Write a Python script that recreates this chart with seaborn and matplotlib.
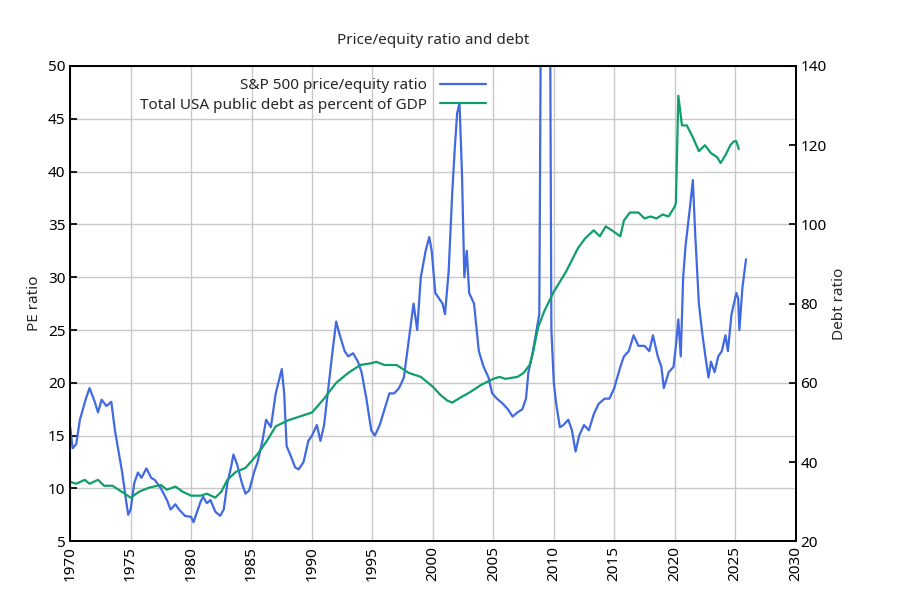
import matplotlib
matplotlib.use("Agg")
import matplotlib.pyplot as plt
import seaborn as sns
import pandas as pd

# S&P 500 P/E ratio
pe_years = [1970.0, 1970.2, 1970.5, 1970.8, 1971.3, 1971.6, 1972.0, 1972.3, 1972.6, 1973.0, 1973.4, 1973.7,
            1974.0, 1974.3, 1974.6, 1974.8, 1975.0, 1975.3, 1975.6, 1975.9, 1976.3, 1976.7, 1977.0, 1977.5,
            1978.0, 1978.3, 1978.7, 1979.0, 1979.5, 1980.0, 1980.2, 1980.5, 1980.8, 1981.0, 1981.3, 1981.6,
            1982.0, 1982.4, 1982.7, 1983.0, 1983.3, 1983.5, 1983.8, 1984.2, 1984.5, 1984.8, 1985.2, 1985.5,
            1985.9, 1986.2, 1986.6, 1987.0, 1987.5, 1987.7, 1987.9, 1988.2, 1988.6, 1988.9, 1989.3, 1989.7,
            1990.0, 1990.4, 1990.7, 1991.0, 1991.3, 1991.7, 1992.0, 1992.3, 1992.7, 1993.0, 1993.4, 1993.8,
            1994.1, 1994.5, 1994.9, 1995.2, 1995.6, 1996.0, 1996.4, 1996.8, 1997.2, 1997.6, 1998.0, 1998.4,
            1998.7, 1999.0, 1999.4, 1999.7, 1999.9, 2000.2, 2000.5, 2000.8, 2001.0, 2001.3, 2001.6, 2001.8,
            2002.0, 2002.2, 2002.4, 2002.6, 2002.8, 2003.0, 2003.4, 2003.8, 2004.2, 2004.6, 2004.9, 2005.3,
            2005.8, 2006.2, 2006.6, 2007.0, 2007.4, 2007.7, 2007.9, 2008.2, 2008.5, 2008.8, 2009.0, 2009.5,
            2009.8, 2010.0, 2010.2, 2010.5, 2010.8, 2011.2, 2011.5, 2011.8, 2012.1, 2012.5, 2012.9, 2013.3,
            2013.7, 2014.2, 2014.6, 2015.0, 2015.5, 2015.8, 2016.2, 2016.6, 2017.0, 2017.5, 2017.9, 2018.2,
            2018.6, 2018.9, 2019.1, 2019.5, 2019.9, 2020.1, 2020.3, 2020.5, 2020.7, 2020.9, 2021.3, 2021.5,
            2021.7, 2022.0, 2022.3, 2022.6, 2022.8, 2023.0, 2023.3, 2023.6, 2023.9, 2024.2, 2024.4, 2024.7,
            2024.9, 2025.1, 2025.25, 2025.35, 2025.6, 2025.9]
pe_values = [15.8, 13.8, 14.2, 16.5, 18.5, 19.5, 18.3, 17.2, 18.4, 17.8, 18.2, 15.5,
             13.5, 11.5, 9.0, 7.5, 8.0, 10.5, 11.5, 11.0, 11.9, 11.0, 10.8, 10.0,
             8.9, 8.0, 8.5, 8.0, 7.4, 7.3, 6.8, 7.8, 8.8, 9.2, 8.6, 8.9,
             7.8, 7.4, 8.0, 10.5, 12.0, 13.2, 12.3, 10.5, 9.5, 9.8, 11.5, 12.5,
             14.5, 16.5, 15.8, 19.0, 21.3, 19.0, 14.0, 13.2, 12.0, 11.8, 12.5, 14.5,
             15.0, 16.0, 14.5, 16.0, 19.0, 23.0, 25.8, 24.5, 23.0, 22.5, 22.8, 22.0,
             21.0, 18.5, 15.5, 15.0, 16.0, 17.5, 19.0, 19.0, 19.5, 20.5, 24.0, 27.5,
             25.0, 30.0, 32.5, 33.8, 32.5, 28.5, 28.0, 27.5, 26.5, 30.5, 38.0, 42.0,
             45.5, 46.5, 40.0, 30.0, 32.5, 28.5, 27.5, 23.0, 21.5, 20.5, 19.0, 18.5,
             18.0, 17.5, 16.8, 17.2, 17.5, 18.5, 21.0, 22.5, 24.5, 26.5, 70.0, 110.0,
             25.0, 20.0, 18.0, 15.8, 16.0, 16.5, 15.5, 13.5, 15.0, 16.0, 15.5, 17.0,
             18.0, 18.5, 18.5, 19.5, 21.5, 22.5, 23.0, 24.5, 23.5, 23.5, 23.0, 24.5,
             22.5, 21.5, 19.5, 21.0, 21.5, 23.5, 26.0, 22.5, 30.0, 33.0, 37.0, 39.2,
             34.0, 27.5, 24.5, 22.0, 20.5, 22.0, 21.0, 22.5, 23.0, 24.5, 23.0, 26.5,
             27.5, 28.5, 28.0, 25.0, 29.0, 31.7]

# Public debt as % of GDP
debt_years = [1970.0, 1970.5, 1971.2, 1971.6, 1972.3, 1972.8, 1973.5, 1974.0, 1974.5, 1975.0, 1975.7, 1976.5,
              1977.5, 1978.0, 1978.7, 1979.3, 1980.0, 1980.8, 1981.3, 1982.0, 1982.5, 1983.0, 1983.7, 1984.5,
              1985.5, 1986.3, 1987.0, 1988.0, 1989.0, 1990.0, 1991.0, 1992.0, 1993.0, 1994.0, 1995.0, 1995.3,
              1996.0, 1997.0, 1998.0, 1999.0, 2000.0, 2000.6, 2001.2, 2001.6, 2002.4, 2003.0, 2004.0, 2005.0,
              2005.5, 2006.0, 2007.0, 2007.5, 2008.0, 2008.3, 2008.7, 2009.2, 2010.0, 2011.0, 2011.5, 2012.0,
              2012.6, 2013.3, 2013.8, 2014.3, 2014.8, 2015.5, 2015.8, 2016.3, 2017.0, 2017.5, 2018.0, 2018.5,
              2019.0, 2019.5, 2020.0, 2020.1, 2020.3, 2020.6, 2021.0, 2021.5, 2022.0, 2022.5, 2023.0, 2023.5,
              2023.8, 2024.2, 2024.6, 2024.9, 2025.1, 2025.3]
debt_values = [35.0, 34.5, 35.5, 34.5, 35.5, 34.0, 34.0, 33.0, 32.0, 31.0, 32.5, 33.5,
               34.2, 33.0, 33.8, 32.5, 31.5, 31.5, 32.0, 31.0, 32.5, 35.5, 37.5, 38.5,
               42.0, 45.5, 49.0, 50.5, 51.5, 52.5, 56.0, 60.0, 62.5, 64.5, 65.0, 65.3,
               64.5, 64.5, 62.5, 61.5, 59.0, 57.0, 55.5, 55.0, 56.5, 57.5, 59.5, 61.0,
               61.5, 61.0, 61.5, 62.5, 64.5, 68.0, 74.0, 78.0, 83.0, 88.0, 91.0, 94.0,
               96.5, 98.5, 97.0, 99.5, 98.5, 97.0, 101.0, 103.0, 103.0, 101.5, 102.0, 101.5,
               102.5, 102.0, 104.5, 105.5, 132.5, 125.0, 125.0, 122.0, 118.5, 120.0, 118.0, 117.0,
               115.5, 117.5, 120.0, 121.0, 121.0, 119.0]

pe_df = pd.DataFrame({"year": pe_years, "pe": pe_values})
debt_df = pd.DataFrame({"year": debt_years, "debt": debt_values})

sns.set_theme(style="white")
plt.rcParams['font.family'] = ['Noto Sans', 'DejaVu Sans']

fig, ax = plt.subplots(figsize=(9, 6), dpi=100)
fig.subplots_adjust(left=0.078, right=0.884, top=0.89, bottom=0.098)
ax2 = ax.twinx()

sns.lineplot(data=pe_df, x="year", y="pe", ax=ax, color="#4169e1", lw=1.6,
             label="S&P 500 price/equity ratio", legend=False)
sns.lineplot(data=debt_df, x="year", y="debt", ax=ax2, color="#109e6a", lw=1.6,
             label="Total USA public debt as percent of GDP", legend=False)

ax.set_xlim(1970, 2030)
ax.set_ylim(5, 50)
ax2.set_ylim(20, 140)
ax.set_xticks(range(1970, 2031, 5))
ax.set_yticks(range(5, 51, 5))
ax2.set_yticks(range(20, 141, 20))
ax.tick_params(axis="x", labelrotation=90)
ax.grid(True, color="#c8c8c8", lw=1)
for a in (ax, ax2):
    for s in a.spines.values():
        s.set_color("black")
    a.tick_params(direction="in", length=5, labelsize=11, colors="black")
ax.set_xlabel("")
ax.set_ylabel("PE ratio", fontsize=11)
ax2.set_ylabel("Debt ratio", fontsize=11)
ax.set_title("Price/equity ratio and debt", fontsize=11, pad=16)

h1, l1 = ax.get_legend_handles_labels()
h2, l2 = ax2.get_legend_handles_labels()
ax2.legend(h1 + h2, l1 + l2, loc="upper left", bbox_to_anchor=(0.08, 1.0), frameon=False,
           markerfirst=False, fontsize=11, handlelength=3, borderpad=0.3, labelspacing=0.3)
for t in ax2.get_legend().get_texts():
    t.set_ha("right")
ax2.get_legend()._legend_box.align = "right"

plt.savefig("out.png")
